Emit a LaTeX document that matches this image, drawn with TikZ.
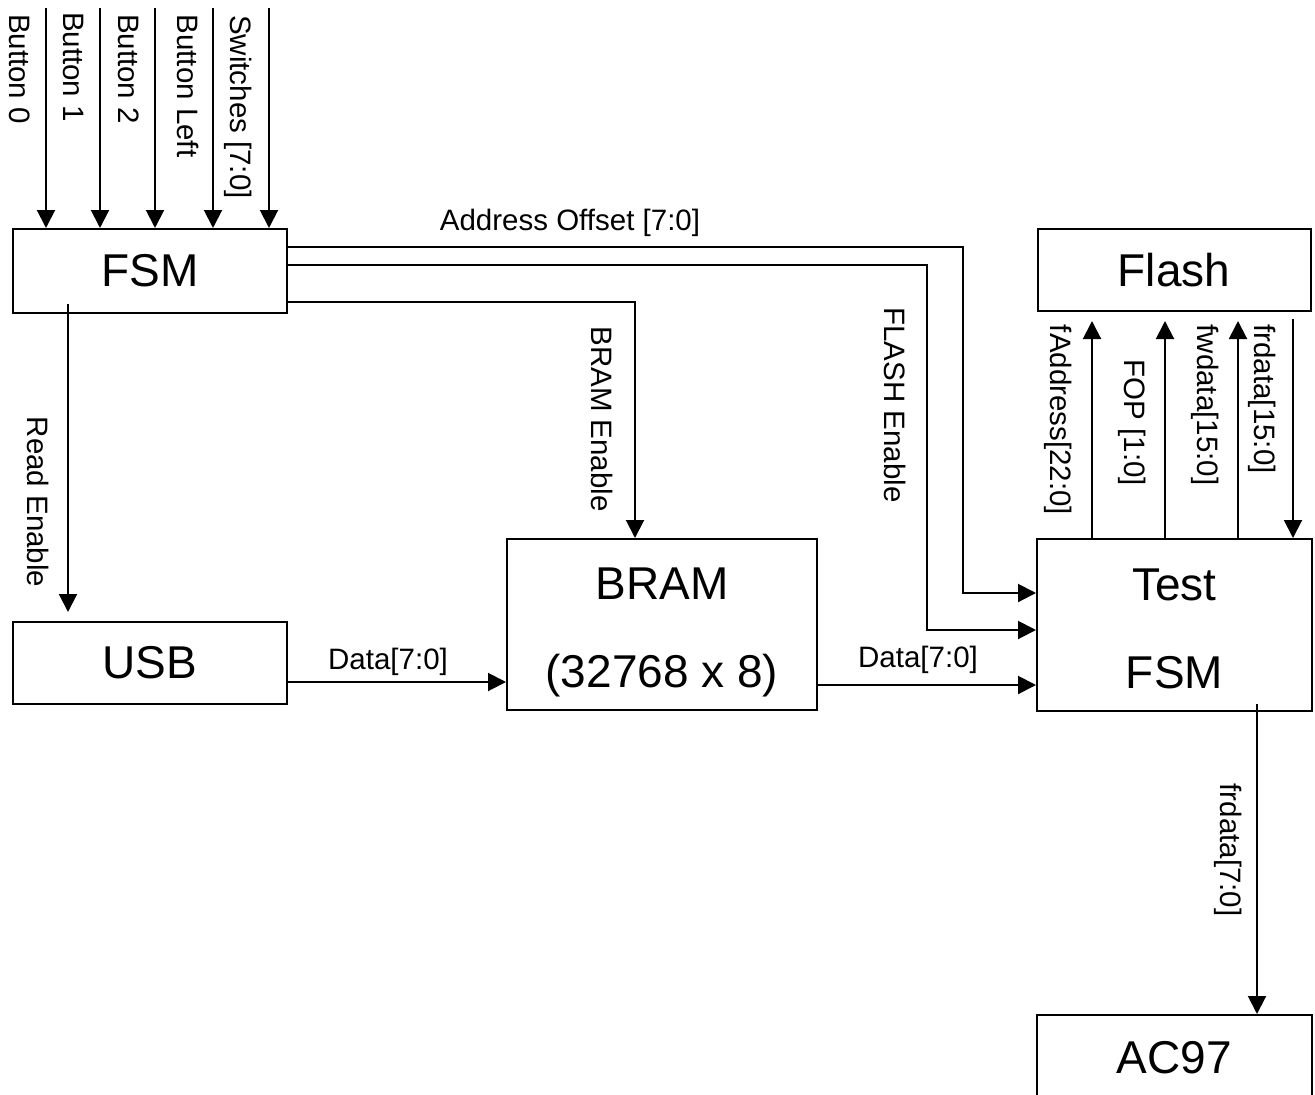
\documentclass[tikz,border=0pt]{standalone}
\usepackage{fontspec}
\setmainfont{Liberation Sans}
\usetikzlibrary{arrows.meta}
\begin{document}
\begin{tikzpicture}[x=1pt,y=-1pt,
  blk/.style={draw,line width=2pt,minimum width=#1,inner sep=0pt,font=\fontsize{46pt}{88pt}\selectfont,align=center},
  lbl/.style={inner sep=0pt,font=\fontsize{29.5pt}{34pt}\selectfont},
  vlbl/.style={lbl,rotate=-90},
  conn/.style={line width=2pt,-{Triangle[length=18pt,width=18pt]}},
  wire/.style={line width=2pt}]
\useasboundingbox (0,0) rectangle (1315,1095);
% blocks
\node[blk=274pt,minimum height=84pt] (FSM) at (150,271) {FSM};
\node[blk=273pt,minimum height=82pt] (Flash) at (1174,270) {Flash};
\node[blk=274pt,minimum height=82pt] (USB) at (150,663) {USB};
\node[blk=310pt,minimum height=171pt] (BRAM) at (662,624.5) {\rule{0pt}{48pt}BRAM\\(32768 x 8)};
\node[blk=275pt,minimum height=172pt] (TFSM) at (1174.5,625) {\rule{0pt}{40pt}Test\\FSM};
\node[blk=275pt,minimum height=86pt] (AC97) at (1174.5,1058) {AC97};
% input arrows
\coordinate (in0) at (46,8);
\coordinate (in1) at (100,8);
\coordinate (in2) at (155,8);
\coordinate (in3) at (213,8);
\coordinate (in4) at (269,8);
\foreach \c in {in0,in1,in2,in3,in4}{\draw[conn] (\c) -- (FSM.north -| \c);}
\node[vlbl] (lb0) at (20,69) {Button 0};
\node[vlbl] (lb1) at (74,67) {Button 1};
\node[vlbl] (lb2) at (129,69) {Button 2};
\node[vlbl] (lb3) at (188,86) {Button Left};
\node[vlbl] (lb4) at (238,107) {Switches [7:0]};
% FSM outputs
\coordinate (ao1) at (963,247);
\coordinate (ao2) at (963,593);
\draw[conn] (FSM.east |- ao1) -- (ao1) -- (ao2) -- (TFSM.west |- ao2);
\node[lbl] (lao) at (570,223) {Address Offset [7:0]};
\coordinate (fe1) at (927,265);
\coordinate (fe2) at (927,630);
\draw[conn] (FSM.east |- fe1) -- (fe1) -- (fe2) -- (TFSM.west |- fe2);
\node[vlbl] (lfe) at (895,405) {FLASH Enable};
\coordinate (be) at (635,302);
\draw[conn] (FSM.east |- be) -- (be) -- (BRAM.north -| be);
\node[vlbl] (lbe) at (602,419) {BRAM Enable};
\coordinate (re) at (68,400);
\draw[conn,shorten <=-10pt,shorten >=9pt] (FSM.south -| re) -- (USB.north -| re);
\node[vlbl] (lre) at (38,502) {Read Enable};
% data paths
\coordinate (d1) at (400,682);
\draw[conn] (USB.east |- d1) -- (BRAM.west |- d1);
\node[lbl] (ld1) at (388,662) {Data[7:0]};
\coordinate (d2) at (900,685);
\draw[conn] (BRAM.east |- d2) -- (TFSM.west |- d2);
\node[lbl] (ld2) at (918,660) {Data[7:0]};
% flash interface
\coordinate (f1) at (1092,400);
\coordinate (f2) at (1165,400);
\coordinate (f3) at (1238,400);
\coordinate (f4) at (1293,400);
\foreach \c in {f1,f2,f3}{\draw[conn,shorten >=9pt] (TFSM.north -| \c) -- (Flash.south -| \c);}
\draw[conn,shorten <=7pt] (Flash.south -| f4) -- (TFSM.north -| f4);
\node[vlbl] (lf1) at (1058,420) {fAddress[22:0]};
\node[vlbl] (lf2) at (1132,423) {FOP [1:0]};
\node[vlbl] (lf3) at (1205,405) {fwdata[15:0]};
\node[vlbl] (lf4) at (1262,399) {frdata[15:0]};
% to AC97
\coordinate (ac) at (1257,850);
\draw[conn,shorten <=-8pt] (TFSM.south -| ac) -- (AC97.north -| ac);
\node[vlbl] (lac) at (1228,850) {frdata[7:0]};
\end{tikzpicture}
\end{document}
